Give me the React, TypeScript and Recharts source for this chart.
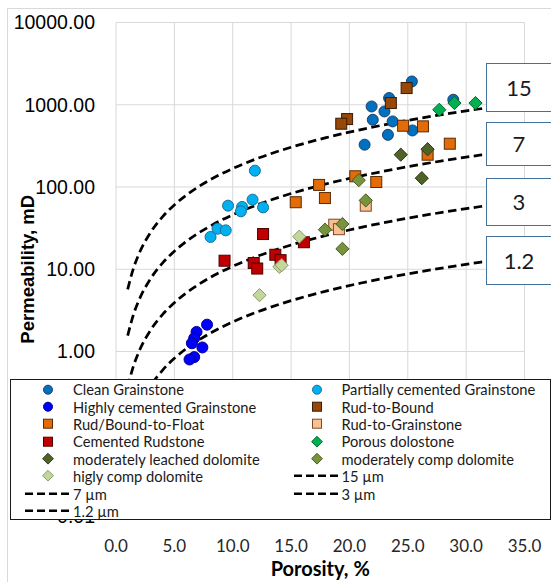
import React from 'react';
import { ComposedChart, Scatter, Line, XAxis, YAxis, CartesianGrid, Legend, Label } from 'recharts';

type Pt = { phi: number; k: number };

// porosity (%) vs permeability (mD) by rock type
const cleanGrainstone: Pt[] = [
  { phi: 25.35, k: 1919 }, { phi: 23.4, k: 1206 }, { phi: 21.9, k: 953 }, { phi: 23.0, k: 829 },
  { phi: 22.0, k: 657 }, { phi: 23.7, k: 627 }, { phi: 25.4, k: 487 }, { phi: 23.3, k: 431 },
  { phi: 21.3, k: 327 }, { phi: 28.9, k: 1151 },
];
const partCemGrainstone: Pt[] = [
  { phi: 11.9, k: 158 }, { phi: 9.6, k: 59.3 }, { phi: 10.8, k: 57.2 }, { phi: 10.7, k: 50.6 },
  { phi: 11.7, k: 70.2 }, { phi: 12.6, k: 56.5 }, { phi: 8.7, k: 31.1 }, { phi: 9.4, k: 29.7 },
  { phi: 8.1, k: 24.7 },
];
const highCemGrainstone: Pt[] = [
  { phi: 7.8, k: 2.12 }, { phi: 6.9, k: 1.73 }, { phi: 6.7, k: 1.45 }, { phi: 6.5, k: 1.26 },
  { phi: 7.4, k: 1.12 }, { phi: 6.7, k: 0.855 }, { phi: 6.3, k: 0.8 },
];
const rudToBound: Pt[] = [
  { phi: 24.9, k: 1596 }, { phi: 23.55, k: 1049 }, { phi: 19.8, k: 670 }, { phi: 19.3, k: 588 },
];
const rudBoundToFloat: Pt[] = [
  { phi: 24.6, k: 556 }, { phi: 26.3, k: 546 }, { phi: 28.6, k: 336 }, { phi: 26.7, k: 247 },
  { phi: 20.5, k: 135 }, { phi: 22.3, k: 115 }, { phi: 17.4, k: 106 }, { phi: 15.4, k: 65.3 },
  { phi: 17.9, k: 73.4 },
];
const rudToGrainstone: Pt[] = [
  { phi: 18.7, k: 34.8 }, { phi: 19.1, k: 30.7 }, { phi: 21.4, k: 59.3 },
];
const cementedRudstone: Pt[] = [
  { phi: 12.6, k: 26.8 }, { phi: 9.3, k: 12.7 }, { phi: 11.8, k: 11.9 }, { phi: 12.1, k: 10.2 },
  { phi: 13.65, k: 15.0 }, { phi: 14.1, k: 12.9 }, { phi: 16.1, k: 21.3 },
];
const porousDolostone: Pt[] = [
  { phi: 27.7, k: 869 }, { phi: 29.0, k: 1049 }, { phi: 30.8, k: 1049 },
];
const modLeachedDolomite: Pt[] = [
  { phi: 24.4, k: 247 }, { phi: 26.7, k: 288 }, { phi: 26.2, k: 128 },
];
const modCompDolomite: Pt[] = [
  { phi: 20.8, k: 121 }, { phi: 21.4, k: 68.7 }, { phi: 17.9, k: 30.3 }, { phi: 19.4, k: 35.5 },
  { phi: 19.4, k: 17.7 },
];
const highCompDolomite: Pt[] = [
  { phi: 12.3, k: 4.84 }, { phi: 14.0, k: 10.7 }, { phi: 14.2, k: 11.2 }, { phi: 15.7, k: 24.9 },
];

// pore throat radius curves, permeability at each porosity
const curvePorosity = [1, 1.5, 2, 3, 4, 5, 6, 8, 10, 12, 15, 18, 21, 24, 27, 30, 31.5];
const perm15 = [5.69, 10.33, 15.76, 28.6, 43.64, 60.58, 79.19, 120.9, 167.7, 219.3, 304.4, 397.9, 499.0, 607.2, 721.9, 842.8, 905.4];
const perm7 = [1.557, 2.826, 4.312, 7.825, 11.94, 16.57, 21.66, 33.06, 45.88, 60.0, 83.28, 108.9, 136.5, 166.1, 197.5, 230.6, 247.7];
const perm3 = [0.3685, 0.6689, 1.0205, 1.852, 2.826, 3.922, 5.127, 7.825, 10.86, 14.2, 19.71, 25.76, 32.31, 39.32, 46.75, 54.57, 58.63];
const perm1p2 = [0.0776, 0.1408, 0.2149, 0.3899, 0.5949, 0.8258, 1.0795, 1.648, 2.286, 2.99, 4.15, 5.425, 6.803, 8.278, 9.842, 11.49, 12.35];

const xTicks = [0, 5, 10, 15, 20, 25, 30, 35];
const yTicks = [0.01, 0.1, 1, 10, 100, 1000, 10000];

const toCurve = (ks: number[]) => curvePorosity.map((phi, i) => ({ phi, k: ks[i] }));

type Kind = 'circle' | 'square' | 'diamond';
interface SeriesDef { name: string; data: Pt[]; kind: Kind; fill: string; stroke: string }

const series: SeriesDef[] = [
  { name: 'Clean Grainstone', data: cleanGrainstone, kind: 'circle', fill: '#0070C0', stroke: '#1F3F66' },
  { name: 'Partially cemented Grainstone', data: partCemGrainstone, kind: 'circle', fill: '#00B0F0', stroke: '#1A6F96' },
  { name: 'Highly cemented Grainstone', data: highCemGrainstone, kind: 'circle', fill: '#0000FF', stroke: '#000090' },
  { name: 'Rud-to-Bound', data: rudToBound, kind: 'square', fill: '#974706', stroke: '#3A1A04' },
  { name: 'Rud/Bound-to-Float', data: rudBoundToFloat, kind: 'square', fill: '#E36C09', stroke: '#5A2A04' },
  { name: 'Rud-to-Grainstone', data: rudToGrainstone, kind: 'square', fill: '#FAC090', stroke: '#7A4A2A' },
  { name: 'Cemented Rudstone', data: cementedRudstone, kind: 'square', fill: '#C00000', stroke: '#4D0000' },
  { name: 'Porous dolostone', data: porousDolostone, kind: 'diamond', fill: '#00B050', stroke: '#006830' },
  { name: 'moderately leached dolomite', data: modLeachedDolomite, kind: 'diamond', fill: '#4F6228', stroke: '#2C3816' },
  { name: 'moderately comp dolomite', data: modCompDolomite, kind: 'diamond', fill: '#77933C', stroke: '#4A5C25' },
  { name: 'higly comp dolomite', data: highCompDolomite, kind: 'diamond', fill: '#C3D69B', stroke: '#8A9A6A' },
];

const curves = [
  { name: '15 µm', data: toCurve(perm15) },
  { name: '7 µm', data: toCurve(perm7) },
  { name: '3 µm', data: toCurve(perm3) },
  { name: '1.2 µm', data: toCurve(perm1p2) },
];

const curveBoxes = [
  { text: '15', top: 63, height: 49 },
  { text: '7', top: 121.5, height: 44.5 },
  { text: '3', top: 177.5, height: 48 },
  { text: '1.2', top: 235.5, height: 49.5 },
];

const DASH = '8.5 4.5';
const calibri = 'Lato, "Open Sans", sans-serif';

function drawSymbol(kind: Kind, cx: number, cy: number, size: number, fill: string, stroke: string) {
  const h = size / 2;
  if (kind === 'circle') return <circle cx={cx} cy={cy} r={h} fill={fill} stroke={stroke} strokeWidth={1} />;
  if (kind === 'square')
    return <rect x={cx - h} y={cy - h} width={size} height={size} fill={fill} stroke={stroke} strokeWidth={1} />;
  const d = h * 1.2;
  return (
    <polygon
      points={`${cx},${cy - d} ${cx + d},${cy} ${cx},${cy + d} ${cx - d},${cy}`}
      fill={fill}
      stroke={stroke}
      strokeWidth={1}
    />
  );
}

const makeShape = (s: SeriesDef) => (props: any) => {
  const { cx, cy } = props;
  if (cx == null || cy == null) return <g />;
  return drawSymbol(s.kind, cx, cy, 11, s.fill, s.stroke);
};

function LegendBox() {
  const items: { name: string; sym: (w: number) => React.ReactNode }[] = [
    ...series.map((s) => ({
      name: s.name,
      sym: (w: number) => drawSymbol(s.kind, w / 2, 8.7, 9, s.fill, s.stroke),
    })),
    ...curves.map((c) => ({
      name: c.name,
      sym: (w: number) => <line x1={0} y1={8.7} x2={w} y2={8.7} stroke="#000" strokeWidth={2.5} strokeDasharray="8 4" />,
    })),
  ];
  return (
    <div
      style={{
        width: 541,
        height: 141,
        boxSizing: 'border-box',
        border: '1px solid #1a1a1a',
        background: '#fff',
        padding: '0.5px 0 0 14px',
        display: 'grid',
        gridTemplateColumns: '268.5px 258px',
        gridAutoRows: '17.4px',
        fontFamily: calibri,
        fontSize: 14.7,
        color: '#1a1a1a',
      }}
    >
      {items.map((it) => (
        <div key={it.name} style={{ display: 'flex', alignItems: 'center', height: 17.4, whiteSpace: 'nowrap' }}>
          <svg width={46} height={17.4} style={{ flex: 'none' }}>
            {it.sym(46)}
          </svg>
          <span style={{ marginLeft: 2 }}>{it.name}</span>
        </div>
      ))}
    </div>
  );
}

export default function App() {
  return (
    <div style={{ position: 'fixed', left: 0, top: 0, width: 551, height: 582, overflow: 'hidden', background: '#fff' }}>
      <div style={{ position: 'absolute', left: 7, top: 8, width: 600, height: 600, border: '1px solid #d9d9d9' }} />
      <div style={{ position: 'absolute', left: 0, top: 0 }}>
        <ComposedChart width={551} height={582} margin={{ top: 22.5, right: 26.5, bottom: 0, left: 0 }}>
          <CartesianGrid stroke="#d9d9d9" strokeWidth={1} />
          <XAxis
            type="number"
            dataKey="phi"
            domain={[0, 35]}
            ticks={xTicks}
            allowDataOverflow
            tickFormatter={(v: number) => v.toFixed(1)}
            axisLine={false}
            tickLine={false}
            tickSize={0}
            tickMargin={24}
            height={66}
            tick={{ fill: '#262626', fontSize: 17, fontFamily: calibri }}
            label={
              <Label
                value="Porosity, %"
                position="insideBottom"
                offset={6}
                style={{ fontFamily: calibri, fontWeight: 700, fontSize: 20, fill: '#000' }}
              />
            }
          />
          <YAxis
            type="number"
            dataKey="k"
            scale="log"
            domain={[0.01, 10000]}
            ticks={yTicks}
            allowDataOverflow
            tickFormatter={(v: number) => v.toFixed(2)}
            axisLine={false}
            tickLine={false}
            tickSize={0}
            tickMargin={21}
            width={116}
            tick={{ fill: '#000', fontSize: 19.5, fontFamily: 'Liberation Sans, Arial, sans-serif' }}
            label={
              <Label
                value="Permeability, mD"
                angle={-90}
                position="insideLeft"
                offset={27}
                style={{ textAnchor: 'middle', fontFamily: 'Liberation Sans, Arial, sans-serif', fontWeight: 700, fontSize: 18.5, fill: '#000' }}
              />
            }
          />
          {curves.map((c) => (
            <Line
              key={c.name}
              name={c.name}
              data={c.data}
              dataKey="k"
              type="monotone"
              stroke="#000"
              strokeWidth={2.75}
              strokeDasharray={DASH}
              dot={false}
              activeDot={false}
              isAnimationActive={false}
            />
          ))}
          {series.map((s) => (
            <Scatter
              key={s.name}
              name={s.name}
              data={s.data}
              dataKey="k"
              shape={makeShape(s)}
              isAnimationActive={false}
            />
          ))}
          <Legend
            layout="horizontal"
            verticalAlign="middle"
            align="center"
            wrapperStyle={{ left: 10, top: 379, width: 541, height: 141 }}
            content={() => <LegendBox />}
          />
        </ComposedChart>
      </div>
      {curveBoxes.map((b) => (
        <div
          key={b.text}
          style={{
            position: 'absolute',
            left: 486,
            top: b.top,
            width: 66,
            height: b.height,
            boxSizing: 'border-box',
            border: '1.5px solid #41719C',
            background: '#fff',
            display: 'flex',
            alignItems: 'center',
            justifyContent: 'center',
            fontFamily: calibri,
            fontSize: 22,
            color: '#1a1a1a',
          }}
        >
          {b.text}
        </div>
      ))}
    </div>
  );
}
